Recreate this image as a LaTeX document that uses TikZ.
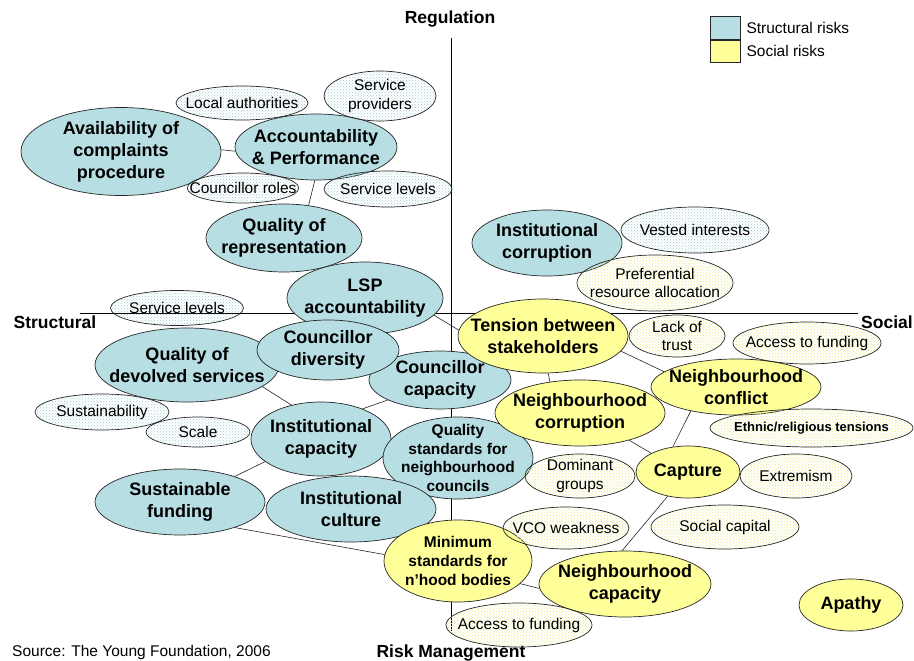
\documentclass[tikz,border=0pt]{standalone}
\usepackage{fontspec}
\setmainfont{Liberation Sans}
\usetikzlibrary{shapes.geometric,patterns,positioning}

\definecolor{structblue}{RGB}{183,222,227}
\definecolor{socialyellow}{RGB}{255,255,153}
\definecolor{dotblue}{RGB}{160,206,214}
\definecolor{dotyellow}{RGB}{232,232,130}

\tikzset{
  risk/.style={ellipse, draw=black!85, line width=.7pt, inner xsep=-14pt, inner ysep=-10pt, align=center},
  ell/.style 2 args={minimum width=#1pt, minimum height=#2pt},
  structural/.style={risk, fill=structblue, font=\fontsize{18}{22}\selectfont\bfseries},
  social/.style={risk, fill=socialyellow, font=\fontsize{18}{22}\selectfont\bfseries},
  minorS/.style={risk, pattern=crosshatch dots, pattern color=dotblue, font=\fontsize{15.5}{18.5}\selectfont},
  minorY/.style={risk, pattern=crosshatch dots, pattern color=dotyellow, font=\fontsize{15.5}{18.5}\selectfont},
  axislabel/.style={font=\fontsize{17.5}{20}\selectfont\bfseries, inner sep=0pt},
  legbox/.style={rectangle, draw=black!85, line width=.7pt, minimum width=30pt, minimum height=22.5pt, inner sep=0pt},
  legtext/.style={font=\fontsize{15.5}{18}\selectfont, inner sep=0pt},
  link/.style={draw=black!85, line width=.6pt},
}

\begin{document}
\begin{tikzpicture}[x=1pt,y=-1pt]
    \useasboundingbox (0,0) rectangle (914,661);

    %% axes
    \coordinate (regN) at (451,38);
    \coordinate (regS) at (451,631);
    \coordinate (axW) at (80,313);
    \coordinate (axE) at (858,313);
    \draw[line width=.7pt] (regN) -- (regS);
    \draw[line width=.7pt] (axW) -- (axE);

    \node[axislabel] (regulation) at (450,19) {Regulation};
    \node[axislabel] (structural) at (55,322) {Structural};
    \node[axislabel] (social) at (887,322) {Social};
    \node[axislabel] (riskman) at (451,653) {Risk Management};
    \node[legtext, anchor=west] (source) at (12,652) {Source: The Young Foundation, 2006};

    %% legend
    \node[legbox, fill=structblue] (legS) at (725,28) {};
    \node[legbox, fill=socialyellow, below=0pt of legS] (legY) {};
    \node[legtext, right=6pt of legS] (legSt) {Structural risks};
    \node[legtext, right=6pt of legY] (legYt) {Social risks};

    %% structural risks
    \node[structural, ell={200}{88}] (avail) at (121,151.5) {Availability of\\complaints\\procedure};
    \node[structural, ell={162}{66}] (acct) at (316,147) {Accountability\\\& Performance};
    \node[structural, ell={156}{68}] (qrep) at (284,238) {Quality of\\representation};
    \node[structural, ell={156}{72}] (lsp) at (365,298) {LSP\\accountability};
    \node[structural, ell={184}{74}] (qdev) at (187,365) {Quality of\\devolved services};
    \node[structural, ell={142}{58}] (ccap) at (440,380) {Councillor\\capacity};
    \node[structural, ell={142}{60}] (cdiv) at (328,350) {Councillor\\diversity};
    \node[structural, ell={150}{66}] (icorr) at (547,243) {Institutional\\corruption};
    \node[structural, ell={140}{74}] (icap) at (321,439) {Institutional\\capacity};
    \node[structural, ell={150}{82}, font=\fontsize{15.5}{18.5}\selectfont\bfseries] (qstd) at (458,458) {Quality\\standards for\\neighbourhood\\councils};
    \node[structural, ell={170}{66}] (sfund) at (180,502) {Sustainable\\funding};
    \node[structural, ell={170}{66}] (icult) at (351,509) {Institutional\\culture};

    %% social risks
    \node[social, ell={148}{82}, font=\fontsize{15.5}{19}\selectfont\bfseries] (minstd) at (458,561) {Minimum\\standards for\\n’hood bodies};
    \node[social, ell={170}{74}] (tension) at (543,336) {Tension between\\stakeholders};
    \node[social, ell={170}{66}] (ncorr) at (580,413) {Neighbourhood\\corruption};
    \node[social, ell={170}{56}] (nconf) at (736,387) {Neighbourhood\\conflict};
    \node[social, ell={104}{52}] (capture) at (688,472) {Capture};
    \node[social, ell={172}{66}] (ncap) at (625,584) {Neighbourhood\\capacity};
    \node[social, ell={104}{52}] (apathy) at (851,605) {Apathy};

    %% minor structural
    \node[minorS, ell={132}{34}] (locauth) at (242,103) {Local authorities};
    \node[minorS, ell={112}{50}] (servprov) at (380,96) {Service\\providers};
    \node[minorS, ell={110}{30}] (croles) at (243,188) {Councillor roles};
    \node[minorS, ell={128}{36}] (slevA) at (388,189) {Service levels};
    \node[minorS, ell={133}{35}] (slevB) at (177,308) {Service levels};
    \node[minorS, ell={134}{36}] (sustain) at (102,412) {Sustainability};
    \node[minorS, ell={104}{30}] (scl) at (198,432) {Scale};
    \node[minorS, ell={148}{46}] (vested) at (695,230) {Vested interests};

    %% minor social
    \node[minorY, ell={156}{56}] (prefres) at (655,283) {Preferential\\resource allocation};
    \node[minorY, ell={96}{42}] (trust) at (677,336) {Lack of\\trust};
    \node[minorY, ell={148}{42}] (fundA) at (807,343) {Access to funding};
    \node[minorY, ell={203}{38}, font=\fontsize{13}{15}\selectfont\bfseries] (ethnic) at (811.5,428) {Ethnic/religious tensions};
    \node[minorY, ell={110}{44}] (domgrp) at (580,476) {Dominant\\groups};
    \node[minorY, ell={112}{44}] (extrem) at (796,476) {Extremism};
    \node[minorY, ell={126}{42}] (vco) at (566,528) {VCO weakness};
    \node[minorY, ell={148}{44}] (socap) at (725,527) {Social capital};
    \node[minorY, ell={146}{44}] (fundB) at (519,625) {Access to funding};

    %% links
    \draw[link] (avail.1) -- (acct.183);
    \draw[link] (acct.-92) -- (qrep.53);
    \draw[link] (lsp.-14) -- (tension.176);
    \draw[link] (qdev.-16) -- (icap.131);
    \draw[link] (icap.36) -- (ccap.201);
    \draw[link] (sfund.25) -- (icap.202);
    \draw[link] (sfund.-25) -- (minstd.175);
    \draw[link] (tension.-82) -- (ncorr.134);
    \draw[link] (tension.-11) -- (nconf.168);
    \draw[link] (nconf.208) -- (capture.121);
    \draw[link] (ncorr.-29) -- (capture.153);
    \draw[link] (capture.-130) -- (ncap.95);
    \draw[link] (minstd.-20) -- (ncap.183);
\end{tikzpicture}
\end{document}
